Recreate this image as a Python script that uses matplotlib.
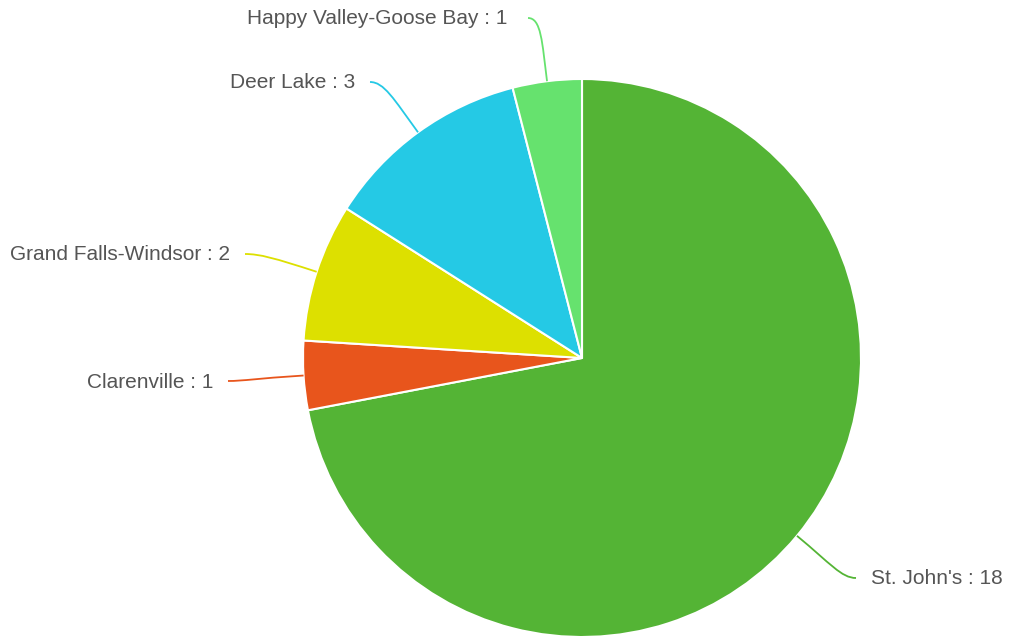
import numpy as np
import matplotlib
matplotlib.use('Agg')
import matplotlib.pyplot as plt
from matplotlib.path import Path
from matplotlib.patches import PathPatch

labels = ["St. John's", 'Clarenville', 'Grand Falls-Windsor', 'Deer Lake', 'Happy Valley-Goose Bay']
values = [18, 1, 2, 3, 1]
colors = ['#54b435', '#e8551c', '#dde000', '#25c9e5', '#66e26e']

# where each label's leader line ends (pixel coords, y from top)
label_ends = [(856, 578), (228, 381), (245, 254), (370, 82), (528, 18)]
text_gap = [15, 15, 15, 15, 21]

W, H = 1014, 639
CX, CY, R = 582, 358, 279

fig = plt.figure(figsize=(W / 100, H / 100), dpi=100)
ax = fig.add_axes([0, 0, 1, 1])

wedges, _ = ax.pie(values, colors=colors, startangle=90, counterclock=False,
                   center=(CX, H - CY), radius=R,
                   wedgeprops=dict(edgecolor='white', linewidth=1.5))
ax.set_xlim(0, W); ax.set_ylim(0, H)
ax.set_aspect('equal'); ax.axis('off')

for w, lab, val, col, (ex, ey), gap in zip(wedges, labels, values, colors, label_ends, text_gap):
    ang = np.deg2rad((w.theta1 + w.theta2) / 2)
    d = np.array([np.cos(ang), np.sin(ang)])
    p0 = np.array([CX, H - CY]) + R * d
    p3 = np.array([ex, H - ey])
    dist = np.linalg.norm(p3 - p0)
    side = 1 if p3[0] > CX else -1
    p1 = p0 + 0.6 * dist * d
    p2 = p3 - np.array([side * 0.2 * dist, 0])
    path = Path([p0, p1, p2, p3], [Path.MOVETO, Path.CURVE4, Path.CURVE4, Path.CURVE4])
    ax.add_patch(PathPatch(path, fill=False, edgecolor=col, lw=1.3))
    ax.text(p3[0] + side * gap, p3[1] - 1, f'{lab} : {val}',
            ha='left' if side > 0 else 'right', va='center',
            fontsize=15, color='#555555', family='Liberation Sans')

fig.savefig('out.png', dpi=100, facecolor='white')
